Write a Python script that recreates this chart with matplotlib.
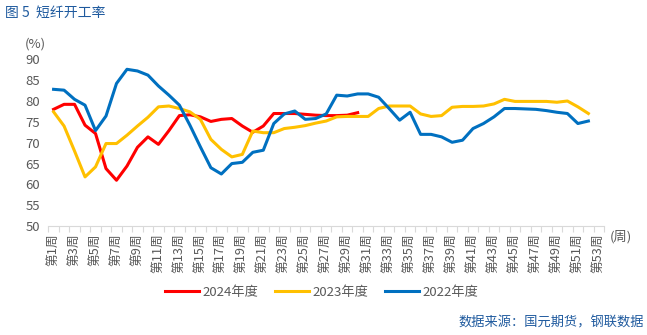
import numpy as np
import matplotlib
matplotlib.use("Agg")
import matplotlib.pyplot as plt

plt.rcParams['font.family'] = ['Noto Sans CJK SC', 'DejaVu Sans']

weeks = list(range(1, 54))
week_labels = [f"第{w}周" for w in weeks]

# 短纤开工率 (%)
rate_2024 = [78.0, 79.2, 79.2, 74.2, 72.2, 63.8, 61.0, 64.4, 68.9, 71.4,
             69.6, 72.9, 76.5, 76.7, 76.2, 75.1, 75.6, 75.8, 74.0, 72.5,
             74.0, 77.0, 77.0, 77.0, 76.8, 76.6, 76.5, 76.5, 76.6, 77.2]
rate_2023 = [77.4, 74.0, 68.0, 61.8, 64.2, 69.8, 69.8, 71.8, 74.0, 76.1,
             78.6, 78.8, 78.2, 77.4, 75.6, 70.8, 68.4, 66.6, 67.2, 72.8,
             72.4, 72.4, 73.4, 73.7, 74.1, 74.7, 75.2, 76.2, 76.3, 76.3,
             76.3, 78.2, 78.8, 78.8, 78.8, 76.9, 76.3, 76.5, 78.5, 78.7,
             78.7, 78.8, 79.3, 80.4, 79.9, 79.9, 79.9, 79.9, 79.7, 80.0,
             78.6, 77.0]
rate_2022 = [82.8, 82.6, 80.4, 79.0, 72.9, 76.4, 84.2, 87.6, 87.2, 86.2,
             83.6, 81.4, 79.0, 74.2, 69.0, 64.0, 62.5, 65.0, 65.3, 67.7,
             68.2, 74.6, 76.9, 77.6, 75.6, 75.8, 76.9, 81.4, 81.2, 81.7,
             81.7, 80.9, 78.2, 75.4, 77.3, 72.0, 72.0, 71.4, 70.1, 70.6,
             73.4, 74.6, 76.2, 78.2, 78.2, 78.1, 78.0, 77.7, 77.3, 77.0,
             74.6, 75.2]

fig = plt.figure(figsize=(6.47, 3.35), dpi=100)
ax = fig.add_axes([0.0747, 0.325, 0.859, 0.498])

lw = 2.2
ax.plot(weeks[:len(rate_2024)], rate_2024, color="#FF0000", lw=lw, label="2024年度")
ax.plot(weeks[:len(rate_2023)], rate_2023, color="#FFC000", lw=lw, label="2023年度")
ax.plot(weeks[:len(rate_2022)], rate_2022, color="#0070C0", lw=lw, label="2022年度")

ax.set_xlim(0.5, 53.5)
ax.set_ylim(50, 90)
ax.set_yticks(range(50, 91, 5))

ax.set_xticks(weeks[::2])
ax.set_xticklabels(week_labels[::2], rotation=90, fontsize=9.2, color="#595959")
ax.set_xticks(np.arange(0.5, 54, 1), minor=True)
ax.tick_params(axis="x", which="major", length=0, pad=5)
ax.tick_params(axis="x", which="minor", length=4, color="#D9D9D9", width=0.8)
ax.tick_params(axis="y", length=0, labelsize=9.5, labelcolor="#595959", pad=6)

for side in ["top", "right", "left"]:
    ax.spines[side].set_visible(False)
ax.spines["bottom"].set_color("#D9D9D9")
ax.spines["bottom"].set_linewidth(0.8)

fig.text(0.008, 0.962, "图 5  短纤开工率", fontsize=10, color="#1F5A9E", va="center")
fig.text(0.038, 0.870, "(%)", fontsize=9.5, color="#595959", va="center")
fig.text(0.942, 0.292, "(周)", fontsize=9.5, color="#595959", va="center")
fig.text(0.995, 0.035, "数据来源：国元期货，钢联数据", fontsize=9.5, color="#1F5A9E",
         ha="right", va="center")

fig.legend(loc="center", bbox_to_anchor=(0.497, 0.127), ncol=3, frameon=False,
           fontsize=9.5, handlelength=2.6, handletextpad=0.2, columnspacing=1.3,
           labelcolor="#595959")

fig.savefig("out.png", dpi=100)
